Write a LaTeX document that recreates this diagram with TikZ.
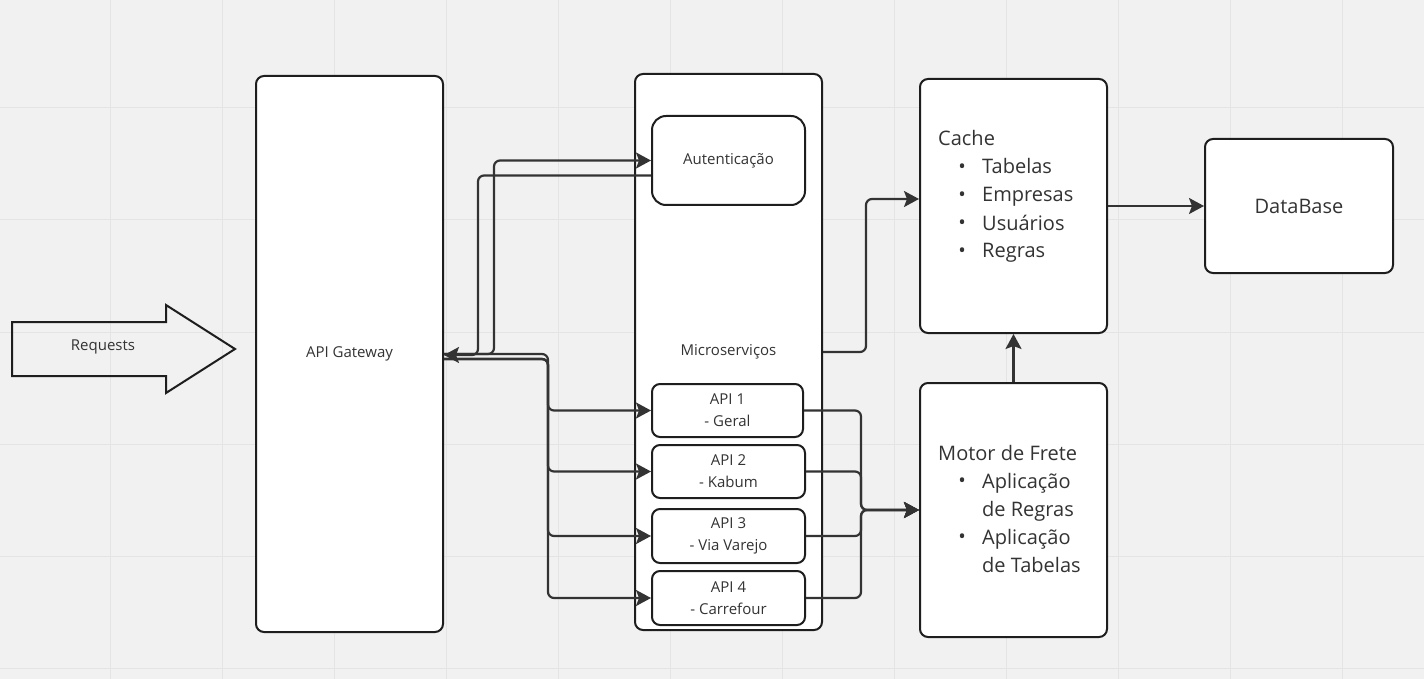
\documentclass[tikz,border=0pt]{standalone}
\usepackage{fontspec}
\setmainfont{Open Sans}
\usetikzlibrary{arrows.meta,calc}
\definecolor{bg}{HTML}{F1F1F1}
\definecolor{gridc}{HTML}{E4E4E4}
\definecolor{ink}{HTML}{1E1E1E}
\definecolor{wire}{HTML}{333333}
\definecolor{txt}{HTML}{333333}
\tikzset{
 box/.style={draw=ink, line width=2pt, fill=white, rounded corners=8pt, inner sep=0pt, text=txt, font=\fontsize{15}{22}\selectfont, align=center},
 conn/.style={draw=wire, line width=2.2pt, arrows={-Stealth[length=15pt,width=16pt,inset=3pt]}},
 small/.style={font=\fontsize{15}{18}\selectfont, text=txt, inner sep=0pt},
 big/.style={font=\fontsize{20}{28}\selectfont, text=txt, inner sep=0pt},
 dot/.style={font=\fontsize{20}{24}\selectfont, text=txt, inner sep=0pt},
}
\begin{document}
\begin{tikzpicture}[x=1pt,y=-1pt]
\fill[bg] (0,0) rectangle (1424,679);
\useasboundingbox (0,0) rectangle (1424,679);
\foreach \gx in {110,222,...,1350} \draw[gridc, line width=1pt] (\gx,0) -- (\gx,679);
\foreach \gy in {108,220,...,670} \draw[gridc, line width=1pt] (0,\gy) -- (1424,\gy);

% Requests arrow
\draw[ink, line width=2pt, line join=miter] (12,322) -- (166,322) -- (166,305) -- (235,349) -- (166,393) -- (166,376) -- (12,376) -- cycle;
\node[small] (req) at (103,347) {Requests};

% main boxes
\node[box, minimum width=187pt, minimum height=556pt] (gw) at (349.5,354) {API Gateway};
\node[box, minimum width=187pt, minimum height=556pt] (ms) at (728.5,352) {Microserviços};
\node[box, rounded corners=14pt, minimum width=153pt, minimum height=89pt] (auth) at (728.5,160.5) {Autenticação};
\node[box, minimum width=151pt, minimum height=53pt] (api1) at (727.5,410.5) {API 1\\- Geral};
\node[box, minimum width=153pt, minimum height=53pt] (api2) at (728.5,471.5) {API 2\\- Kabum};
\node[box, minimum width=153pt, minimum height=54pt] (api3) at (728.5,536) {API 3\\- Via Varejo};
\node[box, minimum width=153pt, minimum height=54pt] (api4) at (728.5,598) {API 4\\- Carrefour};
\node[box, minimum width=187pt, minimum height=254pt] (cache) at (1013.5,206) {};
\node[box, minimum width=188pt, minimum height=134pt, font=\fontsize{20}{24}\selectfont] (db) at (1299,206) {DataBase};
\node[box, minimum width=187pt, minimum height=254pt] (motor) at (1013.5,510) {};

% Cache text
\node[big, anchor=base west] (cacheT) at (938,146) {Cache};
\node[dot] (cb1) at (962,169) {•};
\node[big, anchor=base west] (c1) at (982,174) {Tabelas};
\node[dot] (cb2) at (962,197) {•};
\node[big, anchor=base west] (c2) at (982,202) {Empresas};
\node[dot] (cb3) at (962,225) {•};
\node[big, anchor=base west] (c3) at (982,230) {Usuários};
\node[dot] (cb4) at (962,253) {•};
\node[big, anchor=base west] (c4) at (982,258) {Regras};

% Motor text
\node[big, anchor=base west] (motorT) at (938,460) {Motor de Frete};
\node[dot] (mb1) at (962,483) {•};
\node[big, anchor=base west] (m1) at (982,488) {Aplicação};
\node[big, anchor=base west] (m2) at (982,516) {de Regras};
\node[dot] (mb2) at (962,539) {•};
\node[big, anchor=base west] (m3) at (982,544) {Aplicação};
\node[big, anchor=base west] (m4) at (982,572) {de Tabelas};

% connectors
\draw[conn] (gw.east) [rounded corners=6pt] -- ++(50,0) |- (auth.west) [sharp corners];
\draw[conn] ($(auth.west)+(0,15)$) [rounded corners=6pt] -| ($(gw.east)+(34,1)$) -- ($(gw.east)+(0,1)$) [sharp corners];
\draw[conn] (gw.east) [rounded corners=6pt] -- ++(104,0) |- (api1.west) [sharp corners];
\draw[conn] ($(gw.east)+(0,5)$) [rounded corners=6pt] -- ++(104,0) |- (api2.west) [sharp corners];
\draw[conn] ($(gw.east)+(0,5)$) [rounded corners=6pt] -- ++(104,0) |- (api3.west) [sharp corners];
\draw[conn] ($(gw.east)+(0,5)$) [rounded corners=6pt] -- ++(104,0) |- (api4.west) [sharp corners];
\draw[conn] (api1.east) [rounded corners=6pt] -| ($(motor.west)+(-58,0)$) -- (motor.west) [sharp corners];
\draw[conn] (api2.east) [rounded corners=6pt] -| ($(motor.west)+(-58,0)$) -- (motor.west) [sharp corners];
\draw[conn] (api3.east) [rounded corners=6pt] -| ($(motor.west)+(-58,0)$) -- (motor.west) [sharp corners];
\draw[conn] (api4.east) [rounded corners=6pt] -| ($(motor.west)+(-58,0)$) -- (motor.west) [sharp corners];
\draw[conn] (ms.east) [rounded corners=6pt] -- ++(43,0) |- ($(cache.west)+(0,-7)$) [sharp corners];
\draw[conn] (motor.north) -- (cache.south);
\draw[conn] (cache.east) -- (db.west);
\end{tikzpicture}
\end{document}
